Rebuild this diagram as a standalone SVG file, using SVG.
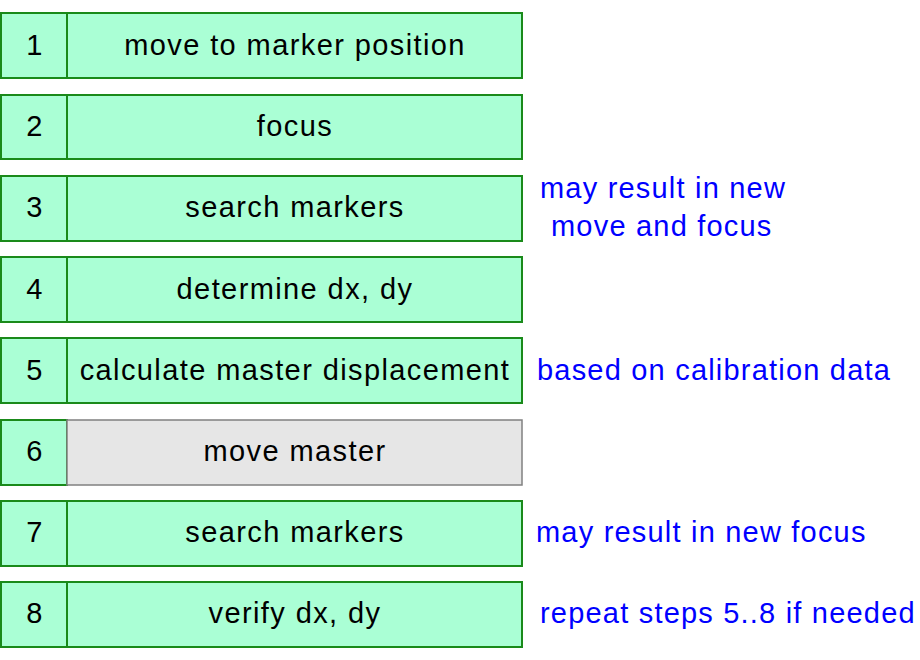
<svg xmlns="http://www.w3.org/2000/svg" width="920" height="660" viewBox="0 0 920 660">
<style>
.b{fill:#aaffd5;stroke:#1a8a1a;stroke-width:2}
.g{fill:#e6e6e6;stroke:#808080;stroke-width:1.5}
.t{font-family:"Liberation Sans",Arial,sans-serif;font-size:29px;letter-spacing:1.4px;fill:#000;text-anchor:middle}
.n{font-family:"Liberation Sans",Arial,sans-serif;font-size:29px;letter-spacing:1.2px;fill:#0000ff}
</style>
<rect width="920" height="660" fill="#fff"/>
<g id="s1"><rect class="b" x="1" y="13" width="66" height="65"/><rect class="b" x="67" y="13" width="455" height="65"/><text class="t" x="35" y="55">1</text><text class="t" x="295" y="55">move to marker position</text></g>
<g id="s2"><rect class="b" x="1" y="95" width="66" height="64"/><rect class="b" x="67" y="95" width="455" height="64"/><text class="t" x="35" y="136">2</text><text class="t" x="295" y="136">focus</text></g>
<g id="s3"><rect class="b" x="1" y="176" width="66" height="65"/><rect class="b" x="67" y="176" width="455" height="65"/><text class="t" x="35" y="217">3</text><text class="t" x="295" y="217">search markers</text></g>
<g id="s4"><rect class="b" x="1" y="257" width="66" height="65"/><rect class="b" x="67" y="257" width="455" height="65"/><text class="t" x="35" y="299">4</text><text class="t" x="295" y="299">determine dx, dy</text></g>
<g id="s5"><rect class="b" x="1" y="338" width="66" height="65"/><rect class="b" x="67" y="338" width="455" height="65"/><text class="t" x="35" y="380">5</text><text class="t" x="295" y="380">calculate master displacement</text></g>
<g id="s6"><rect class="b" x="1" y="420" width="66" height="65"/><rect class="g" x="67" y="420" width="455" height="65"/><text class="t" x="35" y="461">6</text><text class="t" x="295" y="461">move master</text></g>
<g id="s7"><rect class="b" x="1" y="501" width="66" height="65"/><rect class="b" x="67" y="501" width="455" height="65"/><text class="t" x="35" y="542">7</text><text class="t" x="295" y="542">search markers</text></g>
<g id="s8"><rect class="b" x="1" y="582" width="66" height="65"/><rect class="b" x="67" y="582" width="455" height="65"/><text class="t" x="35" y="623">8</text><text class="t" x="295" y="623">verify dx, dy</text></g>
<g id="notes">
<text class="n" x="540" y="198">may result in new</text>
<text class="n" x="551" y="236">move and focus</text>
<text class="n" x="537" y="380">based on calibration data</text>
<text class="n" x="536" y="542">may result in new focus</text>
<text class="n" x="540" y="623">repeat steps 5..8 if needed</text>
</g>
<g id="connectors"/>
</svg>
